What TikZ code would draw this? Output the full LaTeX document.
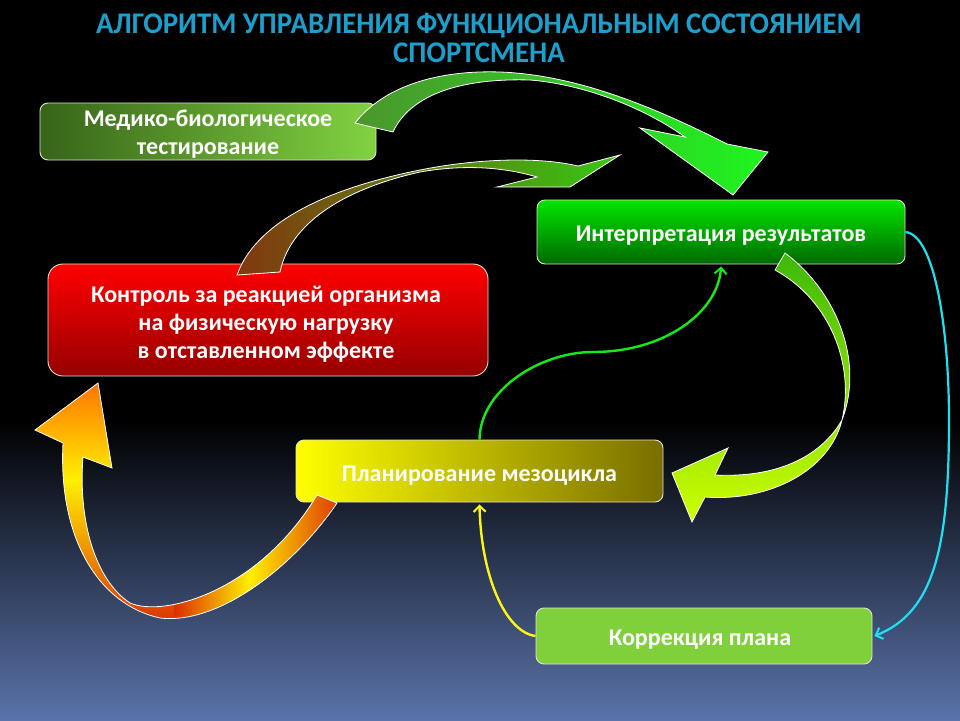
\documentclass[tikz,border=0pt]{standalone}
\usepackage{fontspec}
\setmainfont{Carlito}
\newfontfamily\titlefont[FakeStretch=0.96]{Carlito}
\usetikzlibrary{arrows.meta}
\definecolor{titleblue}{RGB}{27,160,205}
\definecolor{bgbottom}{RGB}{90,115,170}
\definecolor{boxline}{RGB}{225,225,205}
\definecolor{medL}{RGB}{55,100,25}
\definecolor{medR}{RGB}{130,210,65}
\definecolor{intT}{RGB}{0,230,0}
\definecolor{intB}{RGB}{0,105,0}
\definecolor{ctrT}{RGB}{255,0,0}
\definecolor{ctrB}{RGB}{150,0,0}
\definecolor{plaL}{RGB}{255,255,0}
\definecolor{plaR}{RGB}{120,110,0}
\definecolor{corC}{RGB}{128,208,60}
\definecolor{aAL}{RGB}{75,150,45}
\definecolor{aAR}{RGB}{30,245,30}
\definecolor{aBL}{RGB}{130,55,15}
\definecolor{aBR}{RGB}{55,200,20}
\definecolor{aCT}{RGB}{60,185,10}
\definecolor{aCB}{RGB}{205,255,0}
\definecolor{aDO}{RGB}{255,110,0}
\definecolor{aDY}{RGB}{255,240,0}
\definecolor{aDR}{RGB}{220,45,0}
\definecolor{lgreen}{RGB}{20,235,20}
\definecolor{lyellow}{RGB}{250,245,20}
\definecolor{lcyan}{RGB}{30,225,240}
\begin{document}
\begin{tikzpicture}[x=1pt,y=-1pt,
  boxtext/.style={font=\fontsize{24}{28}\selectfont\bfseries, text=white, align=center, inner sep=0pt},
  infobox/.style={draw=boxline, line width=0.9pt, rounded corners=8pt, inner sep=0pt},
  blockarrow/.style={draw=white, line width=0.8pt, line join=miter},
  thinarrow/.style={line width=2.4pt, -{Straight Barb[length=6pt,width=12pt,line width=2pt]}}
]
% background
\fill[black] (0,0) rectangle (960,720);
\shade[top color=black, bottom color=bgbottom] (0,420) rectangle (960,720);
\useasboundingbox (0,0) rectangle (960,720);

% title
\node[font=\titlefont\fontsize{30}{29}\selectfont\bfseries, text=titleblue, align=center, inner sep=0pt]
  (title) at (479,38) {АЛГОРИТМ УПРАВЛЕНИЯ ФУНКЦИОНАЛЬНЫМ СОСТОЯНИЕМ\\СПОРТСМЕНА};

% boxes
\node[infobox, left color=medL, right color=medR, minimum width=336pt, minimum height=57pt]
  (med) at (208,131.5) {};
\node[boxtext] (medT) at ([yshift=-3pt]med.center) {Медико-биологическое\\тестирование};
\node[infobox, top color=intT, bottom color=intB, minimum width=368pt, minimum height=64pt]
  (interp) at (721,232) {};
\node[boxtext] (interpT) at ([yshift=-4pt]interp.center) {Интерпретация результатов};
\node[infobox, rounded corners=15pt, top color=ctrT, bottom color=ctrB, minimum width=440pt, minimum height=112pt]
  (ctrl) at (268,320) {};
\node[boxtext] (ctrlT) at ([xshift=-2pt,yshift=-4pt]ctrl.center) {Контроль за реакцией организма\\на физическую нагрузку\\в отставленном эффекте};
\node[infobox, left color=plaL, right color=plaR, minimum width=367pt, minimum height=62pt]
  (plan) at (479.5,471) {};
\node[boxtext] (planT) at ([yshift=-5pt]plan.center) {Планирование мезоцикла};
\node[infobox, fill=corC, minimum width=336pt, minimum height=56pt]
  (corr) at (704,636) {};
\node[boxtext] (corrT) at ([xshift=-4pt,yshift=-4pt]corr.center) {Коррекция плана};

% thin connectors
\draw[thinarrow, lgreen] (plan.north) .. controls (480,390) and (540,352) .. (593,352)
  .. controls (665,352) and (718,312) .. ([yshift=-2pt]interp.south);
\draw[thinarrow, lyellow] (corr.west) .. controls (505,632) and (481,575) .. ([yshift=-2pt]plan.south);
\draw[thinarrow, lcyan, line width=2.2pt] (interp.east) .. controls (935,235) and (949,330) .. (949,420)
  .. controls (949,545) and (935,612) .. ([xshift=2pt]corr.east);

% block arrow A (Medico -> Interpretation)
\shade[blockarrow, left color=aAL, right color=aAR]
  (355,123) .. controls (385,85) and (440,70) .. (500,72)
  .. controls (580,75) and (660,110) .. (727,144) -- (768,152) -- (733,195) -- (640,128) -- (685,137)
  .. controls (640,105) and (580,84) .. (530,80)
  .. controls (460,78) and (410,95) .. (393,132) -- cycle;

% block arrow B (Control -> top)
\shade[blockarrow, left color=aBL, right color=aBR]
  (237,275) .. controls (255,225) and (320,190) .. (420,170)
  .. controls (480,158) and (540,157) .. (578,166) -- (620,155) -- (570,187) -- (497,187) -- (537,177)
  .. controls (500,166) and (460,165) .. (420,172)
  .. controls (340,190) and (290,225) .. (280,272) -- cycle;

% block arrow C (Interpretation -> Planning)
\shade[blockarrow, top color=aCT, bottom color=aCB]
  (785,253) .. controls (835,290) and (865,360) .. (842,420)
  .. controls (820,458) and (775,478) .. (715,475) -- (728,448) -- (672,473) -- (692,522) -- (705,497)
  .. controls (770,502) and (830,470) .. (842,420)
  .. controls (855,365) and (830,300) .. (775,270) -- cycle;

% block arrow D (Planning -> Control)
\begin{scope}
\clip (317,495) -- (337,503) .. controls (295,565) and (220,625) .. (160,618)
  .. controls (100,605) and (58,540) .. (63,443) -- (35,430) -- (98,383) -- (112,468) -- (83,457)
  .. controls (78,520) and (95,580) .. (130,603)
  .. controls (165,618) and (260,590) .. (317,495) -- cycle;
\shade[top color=aDO, bottom color=aDY] (30,378) rectangle (175,480);
\shade[top color=aDY, bottom color=aDR] (30,480) rectangle (175,626);
\shade[left color=aDR, right color=aDY] (174,540) rectangle (250,630);
\shade[left color=aDY, right color=aDR] (249,480) rectangle (345,630);
\end{scope}
\draw[blockarrow]
  (317,495) -- (337,503) .. controls (295,565) and (220,625) .. (160,618)
  .. controls (100,605) and (58,540) .. (63,443) -- (35,430) -- (98,383) -- (112,468) -- (83,457)
  .. controls (78,520) and (95,580) .. (130,603)
  .. controls (165,618) and (260,590) .. (317,495) -- cycle;
\end{tikzpicture}
\end{document}
